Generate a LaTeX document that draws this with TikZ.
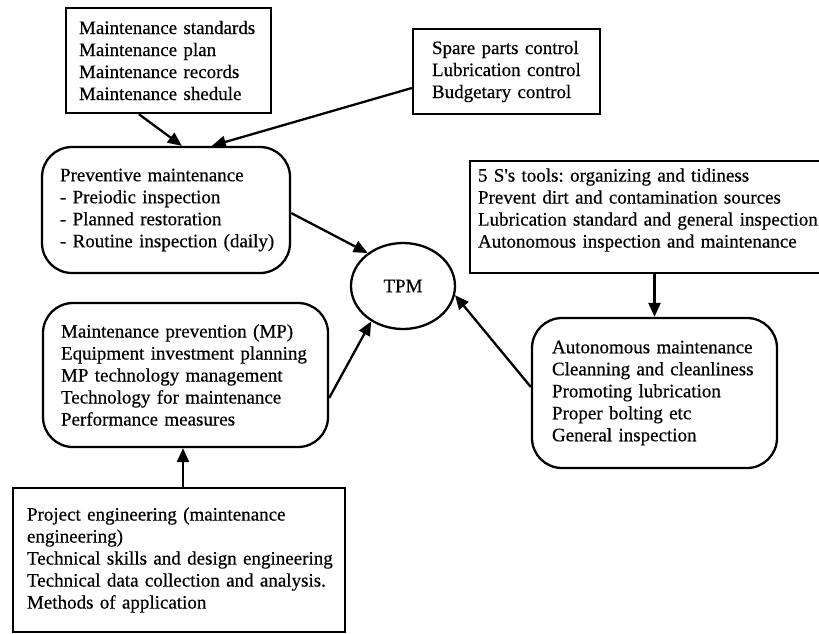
\documentclass[tikz,border=0pt]{standalone}
\usepackage{fontspec}
\setmainfont[FakeBold=0.5]{Liberation Serif}
\usetikzlibrary{shapes.geometric,arrows.meta,calc}
\newcommand\myline[1]{\mbox{#1}}
\frenchspacing
\begin{document}
\begin{tikzpicture}[x=1pt,y=-1pt,
  every node/.style={font=\fontsize{19}{22}\selectfont},
  sqbox/.style={draw,line width=2.3pt,rectangle,align=left,inner ysep=0pt},
  rdbox/.style={sqbox,rounded corners=30pt},
  conn/.style={line width=2.3pt,-{Triangle[length=14pt,width=12pt]}}]
\useasboundingbox (0,0) rectangle (819,633);
\clip (0,0) rectangle (819,633);
\node[sqbox,minimum width=205pt,minimum height=105pt,text width=179pt,inner xsep=13pt] (b1) at (168.5,60.5)
  {\myline{Maintenance standards}\\\myline{Maintenance plan}\\\myline{Maintenance records}\\\myline{Maintenance shedule}};
\node[sqbox,minimum width=187pt,minimum height=85pt,text width=149pt,inner xsep=19pt] (b2) at (506.5,71.5)
  {\myline{Spare parts control}\\\myline{Lubrication control}\\\myline{Budgetary control}};
\node[rdbox,minimum width=248pt,minimum height=126pt,text width=212pt,inner xsep=18pt] (pm) at (166,210)
  {\myline{Preventive maintenance}\\\myline{- Preiodic inspection}\\\myline{- Planned restoration}\\\myline{- Routine inspection (daily)}};
\node[draw,line width=2.3pt,ellipse,minimum width=104pt,minimum height=86pt,inner sep=0pt] (tpm) at (403,286) {TPM};
\node[rdbox,minimum width=285pt,minimum height=144pt,text width=249pt,inner xsep=18pt] (mp) at (185.5,375)
  {\myline{Maintenance prevention (MP)}\\\myline{Equipment investment planning}\\\myline{MP technology management}\\\myline{Technology for maintenance}\\\myline{Performance measures}};
\node[sqbox,minimum width=332pt,minimum height=144pt,text width=304pt,inner xsep=14pt] (pe) at (179,560)
  {\myline{Project engineering (maintenance}\\\myline{engineering)}\\\myline{Technical skills and design engineering}\\\myline{Technical data collection and analysis.}\\\myline{Methods of application}};
\node[sqbox,minimum width=365pt,minimum height=112pt,text width=349pt,inner xsep=8pt] (fs) at (652.5,217)
  {\myline{5 S\textquotesingle s tools: organizing and tidiness}\\\myline{Prevent dirt and contamination sources}\\\myline{Lubrication standard and general inspection}\\\myline{Autonomous inspection and maintenance}\\[-4pt]\mbox{}};
\node[rdbox,minimum width=245pt,minimum height=150pt,text width=205pt,inner xsep=20pt] (am) at (654.5,393)
  {\myline{Autonomous maintenance}\\\myline{Cleanning and cleanliness}\\\myline{Promoting lubrication}\\\myline{Proper bolting etc}\\\myline{General inspection}};
\draw[conn] ([xshift=74pt]b1.south west) -- ([xshift=141pt]pm.north west);
\draw[conn] ([yshift=-16.5pt]b2.west) -- ([xshift=171pt]pm.north west);
\draw[conn] ([yshift=-3pt]pm.east) -- (tpm.137);
\draw[conn] ([yshift=-23pt]mp.east) -- (tpm.228);
\draw[conn] ([yshift=6pt]am.west) -- (tpm.350);
\draw[conn] (fs.south -| am.north) -- (am.north);
\draw[conn] ([xshift=4pt]pe.north) -- ([xshift=-2.5pt]mp.south);
\end{tikzpicture}
\end{document}
